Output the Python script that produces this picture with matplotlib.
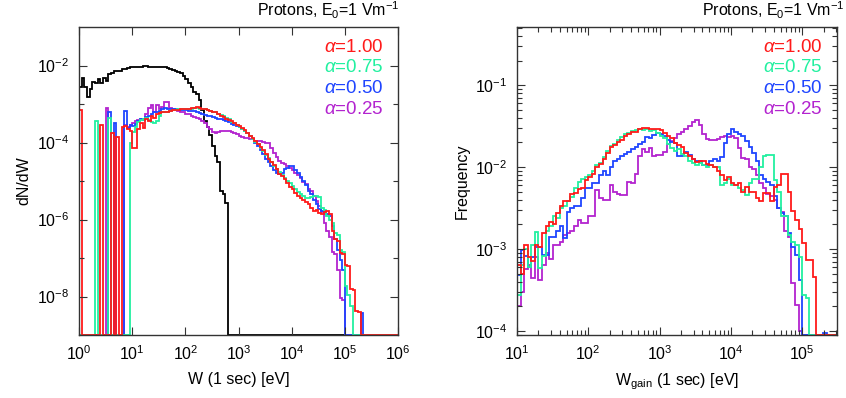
import matplotlib
matplotlib.use('Agg')
import matplotlib.pyplot as plt
import numpy as np
from matplotlib.ticker import FixedLocator, FuncFormatter, LogLocator, NullLocator, NullFormatter

plt.rcParams['font.family'] = ['Liberation Sans', 'DejaVu Sans']
plt.rcParams['mathtext.fontset'] = 'custom'
plt.rcParams['mathtext.rm'] = 'Liberation Sans'
plt.rcParams['mathtext.it'] = 'Liberation Sans:italic'
plt.rcParams['mathtext.bf'] = 'Liberation Sans:bold'

Z = None  # empty bin

# histogram values, log10, 20 log-bins per decade
# left panel: bins start at W = 1 eV
black_left = [-2.55, -2.32, -2.55, -2.82, -2.62, -2.42, -2.45, -2.36, -2.45, -2.32,
              -2.40, -2.23, -2.19, -2.13, -2.14, -2.13, -2.10, -2.08, -2.06, -2.05,
              -2.04, -2.05, -2.04, -2.03, -2.02, -2.02, -2.03, -2.04, -2.05, -2.04,
              -2.05, -2.04, -2.05, -2.07, -2.08, -2.12, -2.15, -2.17, -2.20, -2.28,
              -2.36, -2.45, -2.55, -2.68, -2.75, -2.90, -3.15, -3.45, -3.60, -3.80,
              -4.10, -4.35, -4.50, -5.25, -5.35, -5.56]

red_left = [-3.15, Z, Z, Z, Z, Z, Z, Z, -3.55, Z,
            Z, Z, -3.75, Z, -3.85, Z, -3.60, -3.57, -3.64, -3.70,
            -4.14, -4.14, -3.66, -3.50, -3.62, -3.40, -3.45, -3.30, -3.36, -3.25,
            -3.23, -3.22, -3.20, -3.20, -3.18, -3.16, -3.15, -3.15, -3.14, -3.13,
            -3.13, -3.12, -3.11, -3.10, -3.09, -3.10, -3.12, -3.12, -3.15, -3.17,
            -3.20, -3.22, -3.26, -3.30, -3.34, -3.38, -3.42, -3.45, -3.50, -3.55,
            -3.58, -3.63, -3.68, -3.75, -3.82, -3.88, -3.97, -4.05, -4.12, -4.20,
            -4.30, -4.42, -4.50, -4.58, -4.70, -4.82, -4.88, -4.95, -5.05, -5.15,
            -5.22, -5.30, -5.38, -5.45, -5.50, -5.55, -5.60, -5.70, -5.78, -5.75,
            -5.82, -5.85, -5.80, -5.78, -5.85, -6.30, -6.50, -6.55, -6.88, -6.90,
            -7.17, -7.20, -7.80, -7.82, -8.38, -8.40]

green_left = [Z, Z, Z, Z, Z, Z, -3.45, Z, Z, Z,
              Z, -3.36, Z, Z, Z, Z, Z, Z, Z, -4.00,
              -3.72, -3.60, -3.48, -3.42, -3.38, -3.36, -3.42, -3.48, -3.50, -3.45,
              -3.30, -3.22, -3.20, -3.20, -3.17, -3.16, -3.15, -3.14, -3.14, -3.13,
              -3.12, -3.12, -3.12, -3.11, -3.10, -3.12, -3.12, -3.14, -3.15, -3.18,
              -3.20, -3.22, -3.25, -3.28, -3.32, -3.37, -3.40, -3.46, -3.50, -3.55,
              -3.60, -3.65, -3.70, -3.76, -3.84, -3.92, -3.98, -4.05, -4.15, -4.22,
              -4.32, -4.40, -4.50, -4.60, -4.68, -4.76, -4.84, -4.92, -5.00, -5.05,
              -5.12, -5.20, -5.28, -5.35, -5.40, -5.44, -5.45, -5.42, -5.40, -5.38,
              -5.42, -5.70, -5.75, -5.90, -6.00, -6.10, -6.35, -6.40, -6.80, -6.85,
              -7.72, -7.95, -8.25]

blue_left = [Z, Z, Z, Z, Z, Z, Z, Z, Z, Z,
             Z, -3.20, Z, -3.50, Z, Z, Z, -3.18, -3.62, -3.55,
             -3.58, -3.52, -3.45, -3.40, -3.42, -3.35, -3.30, -3.25, -3.22, -3.20,
             -3.18, -3.12, -3.10, -3.12, -3.13, -3.14, -3.14, -3.15, -3.15, -3.16,
             -3.16, -3.17, -3.18, -3.18, -3.20, -3.24, -3.27, -3.28, -3.30, -3.30,
             -3.33, -3.36, -3.38, -3.40, -3.42, -3.45, -3.48, -3.52, -3.54, -3.56,
             -3.60, -3.65, -3.70, -3.76, -3.84, -3.92, -4.00, -4.10, -4.20, -4.30,
             -4.42, -4.50, -4.60, -4.72, -4.78, -4.83, -4.80, -4.70, -4.66, -4.62,
             -4.61, -4.72, -4.80, -4.90, -5.00, -5.10, -5.25, -5.35, -5.50, -5.60,
             -5.72, -5.78, -5.82, -5.85, -5.90, -6.17, -6.50, -6.78, -7.05, -7.30,
             Z, Z, Z, Z, Z, Z, -8.42]

purple_left = [Z, Z, Z, Z, Z, Z, Z, Z, Z, Z,
               -3.10, Z, Z, Z, Z, Z, Z, -3.55, -3.60, -3.55,
               -3.50, -3.45, -3.42, -3.40, -3.38, -3.25, -3.10, -3.02, -3.20, -3.02,
               -3.12, -3.08, -2.96, -2.96, -3.10, -3.12, -3.15, -3.18, -3.20, -3.22,
               -3.25, -3.27, -3.30, -3.33, -3.36, -3.40, -3.45, -3.50, -3.60, -3.66,
               -3.74, -3.75, -3.73, -3.71, -3.70, -3.69, -3.70, -3.72, -3.75, -3.78,
               -3.82, -3.86, -3.88, -3.88, -3.90, -3.92, -3.95, -3.97, -3.97, -3.98,
               -4.00, -4.02, -4.15, -4.27, -4.38, -4.49, -4.53, -4.57, -4.60, -4.66,
               -4.71, -4.78, -4.85, -4.92, -5.02, -5.09, -5.20, -5.27, -5.40, -5.53,
               -5.65, -5.80, -6.10, -6.30, -6.45, -6.85, -6.90, -7.30, -8.05, -8.10]

# right panel: bins start at W_gain = 10 eV
red_right = [-3.20, -3.30, -2.95, -3.10, -3.15, -2.95, -2.98, -2.80, -2.72, -2.67,
             -2.70, -2.56, -2.48, -2.42, -2.42, -2.33, -2.32, -2.27, -2.26, -2.16,
             -2.12, -2.08, -2.00, -1.96, -1.90, -1.83, -1.76, -1.73, -1.69, -1.67,
             -1.62, -1.60, -1.57, -1.57, -1.53, -1.52, -1.52, -1.53, -1.53, -1.53,
             -1.55, -1.59, -1.62, -1.65, -1.70, -1.73, -1.75, -1.83, -1.87, -1.90,
             -1.94, -1.92, -1.93, -1.96, -1.98, -2.00, -2.05, -2.10, -2.16, -2.12,
             -2.20, -2.22, -2.20, -2.30, -2.24, -2.30, -2.30, -2.38, -2.42, -2.32,
             -2.32, -2.42, -2.24, -2.22, -2.08, -2.08, -2.30, -2.54, -2.65, -2.75,
             -2.93, -3.13, -3.13, -3.34]

green_right = [-3.56, -3.20, -3.00, -3.22, -2.95, -2.79, -3.23, -3.09, -2.78, -2.72,
               -2.60, -2.62, -2.50, -2.47, -2.42, -2.36, -2.25, -2.18, -2.15, -2.12,
               -2.10, -2.05, -1.98, -1.95, -1.88, -1.80, -1.74, -1.72, -1.67, -1.63,
               -1.60, -1.58, -1.56, -1.55, -1.54, -1.55, -1.53, -1.56, -1.55, -1.58,
               -1.62, -1.65, -1.72, -1.77, -1.80, -1.78, -1.84, -1.87, -1.93, -1.95,
               -1.98, -1.95, -1.98, -2.00, -1.98, -2.00, -2.00, -2.22, -2.20, -2.15,
               -2.22, -2.22, -2.25, -2.28, -2.34, -2.20, -2.15, -2.15, -2.00, -1.86,
               -1.85, -1.85, -2.16, -2.30, -2.60, -2.60, -2.83, -2.92, -2.95, -3.10,
               -3.56, -3.60]

blue_right = [-3.32, -3.01, -3.08, -3.22, -3.10, -2.98, -2.98, -3.07, -3.07, -2.85,
              -2.85, -2.78, -2.72, -2.86, -2.55, -2.50, -2.47, -2.47, -2.38, -2.26,
              -2.25, -2.20, -2.20, -2.10, -2.05, -2.10, -2.00, -1.92, -1.90, -1.87,
              -1.84, -1.81, -1.78, -1.76, -1.72, -1.69, -1.63, -1.65, -1.61, -1.59,
              -1.60, -1.62, -1.67, -1.69, -1.70, -1.87, -1.87, -1.82, -1.85, -1.90,
              -1.93, -1.93, -1.98, -1.98, -1.92, -1.90, -1.92, -1.88, -1.70, -1.60,
              -1.54, -1.57, -1.60, -1.62, -1.68, -1.75, -1.83, -1.92, -2.10, -2.15,
              -2.18, -2.22, -2.35, -2.50, -2.56, -2.60, -2.80, -2.97, -3.07, -3.38,
              Z, Z, Z, Z, Z, Z, -4.02]

purple_right = [-3.70, -3.52, -3.25, -3.20, -3.35, -3.10, -3.38, -3.20, -3.05, -3.12,
                -2.95, -2.95, -2.92, -2.83, -2.80, -2.78, -2.72, -2.65, -2.68, -2.68,
                -2.60, -2.60, -2.28, -2.38, -2.40, -2.40, -2.22, -2.30, -2.33, -2.34,
                -2.34, -2.18, -2.20, -2.08, -1.87, -1.78, -1.82, -1.77, -1.87, -1.85,
                -1.85, -1.81, -1.72, -1.68, -1.65, -1.60, -1.57, -1.53, -1.50, -1.45,
                -1.43, -1.49, -1.60, -1.66, -1.67, -1.67, -1.66, -1.63, -1.62, -1.63,
                -1.62, -1.65, -1.77, -1.89, -1.90, -2.00, -2.02, -2.10, -2.20, -2.25,
                -2.33, -2.35, -2.40, -2.50, -2.55, -2.78, -2.85, -3.42, -3.68, -4.00]

alpha_labels = ['1.00', '0.75', '0.50', '0.25']
colors = ['#ff1a1a', '#22f0a0', '#1f45ff', '#b323cf']
title = r'Protons, E$_0$=1 Vm$^{-1}$'


def to_counts(logvals, nbins, floor):
    vals = [floor if v is None else 10.0 ** v for v in logvals]
    return np.array(vals + [floor] * (nbins - len(vals)))


def dec_label(v, pos):
    return r'10$^{%d}$' % int(round(np.log10(v)))


fig = plt.figure(figsize=(8.46, 3.98), dpi=100)
ax1 = fig.add_axes([79 / 846, 63 / 398, 319 / 846, 308 / 398])
ax2 = fig.add_axes([517 / 846, 63 / 398, 320 / 846, 308 / 398])

# ---- left panel: dN/dW ----
ymin1, ymax1 = 1e-9, 1e-1
edges1 = 10.0 ** (np.arange(121) / 20.0)
ax1.stairs(to_counts(black_left, 120, ymin1), edges1, baseline=None, color='black', lw=1.3)
for series, c in zip([purple_left, blue_left, green_left, red_left], colors[::-1]):
    ax1.stairs(to_counts(series, 120, ymin1), edges1, baseline=None, color=c, lw=1.3)
ax1.set_xscale('log')
ax1.set_yscale('log')
ax1.set_xlim(1, 1e6)
ax1.set_ylim(ymin1, ymax1)
ax1.xaxis.set_major_locator(FixedLocator(10.0 ** np.arange(0, 7)))
ax1.xaxis.set_minor_locator(NullLocator())
ax1.xaxis.set_major_formatter(FuncFormatter(dec_label))
ax1.yaxis.set_major_locator(FixedLocator(10.0 ** np.arange(-8, -1, 2)))
ax1.yaxis.set_minor_locator(FixedLocator(10.0 ** np.arange(-7, -2, 2)))
ax1.yaxis.set_major_formatter(FuncFormatter(dec_label))
ax1.yaxis.set_minor_formatter(NullFormatter())
ax1.set_xlabel('W (1 sec) [eV]', fontsize=11.5, labelpad=6)
ax1.set_ylabel('dN/dW', fontsize=11.5)

# ---- right panel: frequency ----
ymin2, ymax2 = 10 ** -4.05, 10 ** -0.29
edges2 = 10.0 ** (1 + np.arange(91) / 20.0)
for series, c in zip([purple_right, blue_right, green_right, red_right], colors[::-1]):
    ax2.stairs(to_counts(series, 90, ymin2), edges2, baseline=None, color=c, lw=1.3)
ax2.set_xscale('log')
ax2.set_yscale('log')
ax2.set_xlim(10, 10 ** 5.49)
ax2.set_ylim(ymin2, ymax2)
ax2.xaxis.set_major_locator(FixedLocator(10.0 ** np.arange(1, 6)))
ax2.xaxis.set_minor_locator(LogLocator(base=10, subs=np.arange(2, 10)))
ax2.xaxis.set_major_formatter(FuncFormatter(dec_label))
ax2.xaxis.set_minor_formatter(NullFormatter())
ax2.yaxis.set_major_locator(FixedLocator(10.0 ** np.arange(-4, 0)))
ax2.yaxis.set_minor_locator(LogLocator(base=10, subs=np.arange(2, 10)))
ax2.yaxis.set_major_formatter(FuncFormatter(dec_label))
ax2.yaxis.set_minor_formatter(NullFormatter())
ax2.set_xlabel(r'W$_{\rm gain}$ (1 sec) [eV]', fontsize=11.5, labelpad=6)
ax2.set_ylabel('Frequency', fontsize=11.5)

for ax, tx in ((ax1, 1.005), (ax2, 1.025)):
    ax.tick_params(which='both', direction='in', top=True, right=True,
                   labelsize=11.5, width=0.8, color='#333333')
    ax.tick_params(which='major', length=6, pad=7)
    ax.tick_params(which='minor', length=3.5)
    for sp in ax.spines.values():
        sp.set_linewidth(1.0)
        sp.set_color('#333333')
    ax.text(tx, 1.02, title, transform=ax.transAxes, ha='right', va='bottom',
            fontsize=11.5)
    for i, (lab, c) in enumerate(zip(alpha_labels, colors)):
        ax.text(0.953, 0.935 - 0.068 * i, r'$\alpha$=' + lab, color=c,
                transform=ax.transAxes, ha='right', va='center', fontsize=13.5)

fig.savefig('out.png', dpi=100)
